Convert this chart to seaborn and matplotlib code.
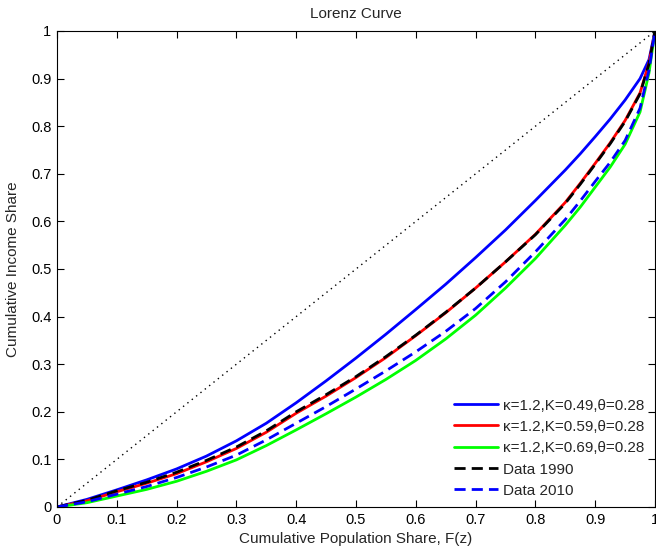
import numpy as np
import pandas as pd
import matplotlib
matplotlib.use("Agg")
import matplotlib.pyplot as plt
import seaborn as sns

# --- data ---
pop_share = [0, .05, .1, .15, .2, .25, .3, .35, .4, .45, .5, .55, .6, .65,
             .7, .75, .8, .85, .875, .9, .925, .95, .975, .99, 1]
model_k049 = [0, .016, .036, .057, .080, .107, .139, .176, .219, .265, .313, .363,
              .415, .468, .524, .582, .644, .708, .742, .778, .815, .855, .900, .940, 1]
model_k059 = [0, .013, .032, .050, .070, .095, .123, .157, .197, .233, .272, .314,
              .360, .408, .460, .515, .573, .640, .680, .722, .765, .812, .870, .933, 1]
model_k069 = [0, .009, .023, .037, .054, .075, .099, .129, .162, .196, .231, .268,
              .308, .353, .403, .460, .522, .592, .630, .672, .714, .762, .830, .912, 1]
data_1990 = [0, .014, .034, .052, .073, .098, .126, .160, .200, .236, .274, .316,
             .361, .409, .460, .515, .572, .638, .678, .720, .763, .810, .868, .931, 1]
data_2010 = [0, .011, .027, .043, .062, .084, .109, .141, .176, .211, .248, .286,
             .326, .369, .417, .473, .536, .604, .643, .684, .724, .770, .838, .918, 1]

series_labels = ["\u03ba=1.2,K=0.49,\u03b8=0.28",
                 "\u03ba=1.2,K=0.59,\u03b8=0.28",
                 "\u03ba=1.2,K=0.69,\u03b8=0.28",
                 "Data 1990", "Data 2010"]
tick_vals = [0, .1, .2, .3, .4, .5, .6, .7, .8, .9, 1]
tick_labels = ["0", "0.1", "0.2", "0.3", "0.4", "0.5", "0.6", "0.7", "0.8", "0.9", "1"]

sns.set_style("ticks")
plt.rcParams["font.family"] = ["Liberation Sans", "DejaVu Sans"]
plt.rcParams["font.size"] = 10.5
plt.rcParams["xtick.direction"] = "in"
plt.rcParams["ytick.direction"] = "in"

fig = plt.figure(figsize=(6.56, 5.48), dpi=100)
ax = fig.add_axes([57 / 656, 41 / 548, 598 / 656, 476 / 548])

styles = [("#0000ff", "-"), ("#ff0000", "-"), ("#00ff00", "-"),
          ("#000000", "--"), ("#0000ff", "--")]
curves = [model_k049, model_k059, model_k069, data_1990, data_2010]

for vals, lab, (col, ls) in zip(curves, series_labels, styles):
    sns.lineplot(x=pop_share, y=vals, ax=ax, color=col, lw=2, label=lab)
    if ls == "--":
        ax.lines[-1].set_dashes((4, 2.2))

# line of perfect equality
ax.plot(pop_share, pop_share, color="black", lw=1, ls=(0, (1, 3)))

ax.set_xlim(0, 1)
ax.set_ylim(0, 1)
ax.set_xticks(tick_vals)
ax.set_xticklabels(tick_labels)
ax.set_yticks(tick_vals)
ax.set_yticklabels(tick_labels)
ax.tick_params(top=True, right=True, length=5, width=0.8, labelsize=10.5,
               colors="black", pad=4)
for sp in ax.spines.values():
    sp.set_visible(True)
    sp.set_linewidth(0.8)
    sp.set_color("black")

ax.set_title("Lorenz Curve", fontsize=11, pad=9)
ax.set_xlabel("Cumulative Population Share, F(z)", fontsize=11, labelpad=4)
ax.set_ylabel("Cumulative Income Share", fontsize=11, labelpad=8)

ax.legend(loc="lower right", bbox_to_anchor=(0.998, 0.0), frameon=False,
          fontsize=11, handlelength=2.9, handletextpad=0.35,
          labelspacing=0.48, borderaxespad=0.2)

fig.savefig("out.png", dpi=100)
